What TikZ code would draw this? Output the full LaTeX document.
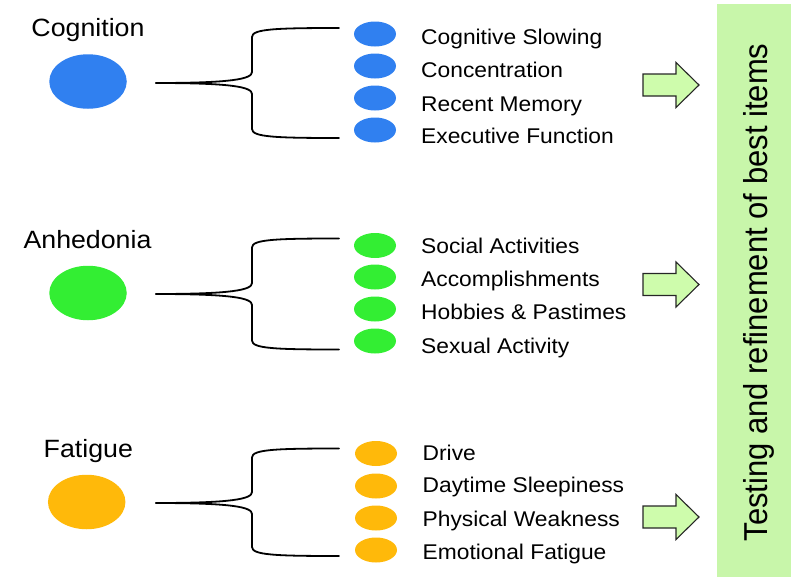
\documentclass[tikz,border=0pt]{standalone}
\usepackage{fontspec}
\usetikzlibrary{shapes.geometric}
\setmainfont{Liberation Sans}[FakeStretch=1.07]
\newfontfamily\boxfont{Liberation Sans}
\definecolor{cogblue}{RGB}{48,128,240}
\definecolor{anhgreen}{RGB}{51,238,51}
\definecolor{fatorange}{RGB}{255,185,10}
\definecolor{boxgreen}{RGB}{200,246,170}
\definecolor{arrowgreen}{RGB}{206,252,172}
\tikzset{
  bigdot/.style={ellipse, minimum width=77.5pt, minimum height=54.5pt, inner sep=0pt},
  smalldot/.style={ellipse, minimum width=42pt, minimum height=25pt, inner sep=0pt},
  headlabel/.style={anchor=base, inner sep=0pt, font=\fontsize{25}{30}\selectfont},
  itemlabel/.style={anchor=base west, inner sep=0pt, font=\fontsize{21.3}{26}\selectfont},
  brace/.style={draw=black, line width=1.8pt, line cap=round},
  barrow/.pic={\draw[draw=black!85, line width=1.1pt, fill=arrowgreen, line join=miter]
     (-28,-11) -- (5,-11) -- (5,-22.5) -- (28,0) -- (5,22.5) -- (5,11) -- (-28,11) -- cycle;}
}
\newcommand\forkdraw[4]{% #1 ytop, #2 ymid, #3 ybot, #4 prefix
  \coordinate (#4s) at (156,#2);
  \coordinate (#4t) at (339,#1);
  \coordinate (#4b) at (339,#3);
  \draw[brace] (#4t) .. controls (275,#1) and (252,#1+1) .. (252,#1+9) -- (252,#2-11)
     .. controls (252,#2-4) and (232,#2) .. (#4s);
  \draw[brace] (#4s) .. controls (232,#2) and (252,#2+4) .. (252,#2+11) -- (252,#3-9)
     .. controls (252,#3-1) and (275,#3) .. (#4b);
}
\begin{document}
\begin{tikzpicture}[x=1pt,y=-1pt]
\useasboundingbox (0,0) rectangle (796,584);
% right box
\node[fill=boxgreen, minimum width=74pt, minimum height=573pt, inner sep=0pt] (box) at (754,290.5) {};
\node[rotate=90, inner sep=0pt, font=\boxfont\fontsize{31}{36}\selectfont] (boxtext) at (758.5,292.5)
  {\scalebox{1}[1.07]{Testing and refinement of best items}};
% Cognition
\node[headlabel] (cog) at (88,36) {Cognition};
\node[bigdot, fill=cogblue] (cogdot) at (88,81.5) {};
\forkdraw{28}{83}{138}{cf}
\node[smalldot, fill=cogblue] (c1) at (375,34) {};
\node[smalldot, fill=cogblue] (c2) at (375,66) {};
\node[smalldot, fill=cogblue] (c3) at (375,98) {};
\node[smalldot, fill=cogblue] (c4) at (375,130) {};
\node[itemlabel] (ct1) at (421,44.3) {Cognitive Slowing};
\node[itemlabel] (ct2) at (421,77.7) {Concentration};
\node[itemlabel] (ct3) at (421,111) {Recent Memory};
\node[itemlabel] (ct4) at (421,143.3) {Executive Function};
\pic at (671,85) {barrow};
% Anhedonia
\node[headlabel] (anh) at (87.5,248.3) {Anhedonia};
\node[bigdot, fill=anhgreen] (anhdot) at (88,293) {};
\forkdraw{238.5}{294}{349.5}{af}
\node[smalldot, fill=anhgreen] (a1) at (375,245.5) {};
\node[smalldot, fill=anhgreen] (a2) at (375,277) {};
\node[smalldot, fill=anhgreen] (a3) at (375,309) {};
\node[smalldot, fill=anhgreen] (a4) at (375,341) {};
\node[itemlabel] (at1) at (421,253.3) {Social Activities};
\node[itemlabel] (at2) at (421,286.7) {Accomplishments};
\node[itemlabel] (at3) at (421,319.5) {Hobbies \& Pastimes};
\node[itemlabel] (at4) at (421,353.3) {Sexual Activity};
\pic at (671,284.5) {barrow};
% Fatigue
\node[headlabel] (fat) at (88.3,457.3) {Fatigue};
\node[bigdot, fill=fatorange] (fatdot) at (86.7,502) {};
\forkdraw{448.5}{503}{556}{ff}
\node[smalldot, fill=fatorange] (f1) at (376,453.5) {};
\node[smalldot, fill=fatorange] (f2) at (376,486) {};
\node[smalldot, fill=fatorange] (f3) at (376,518) {};
\node[smalldot, fill=fatorange] (f4) at (376,550) {};
\node[itemlabel] (ft1) at (422.5,460) {Drive};
\node[itemlabel] (ft2) at (422.5,492.7) {Daytime Sleepiness};
\node[itemlabel] (ft3) at (422.5,526) {Physical Weakness};
\node[itemlabel] (ft4) at (422.5,559.3) {Emotional Fatigue};
\pic at (671,517) {barrow};
\end{tikzpicture}
\end{document}
